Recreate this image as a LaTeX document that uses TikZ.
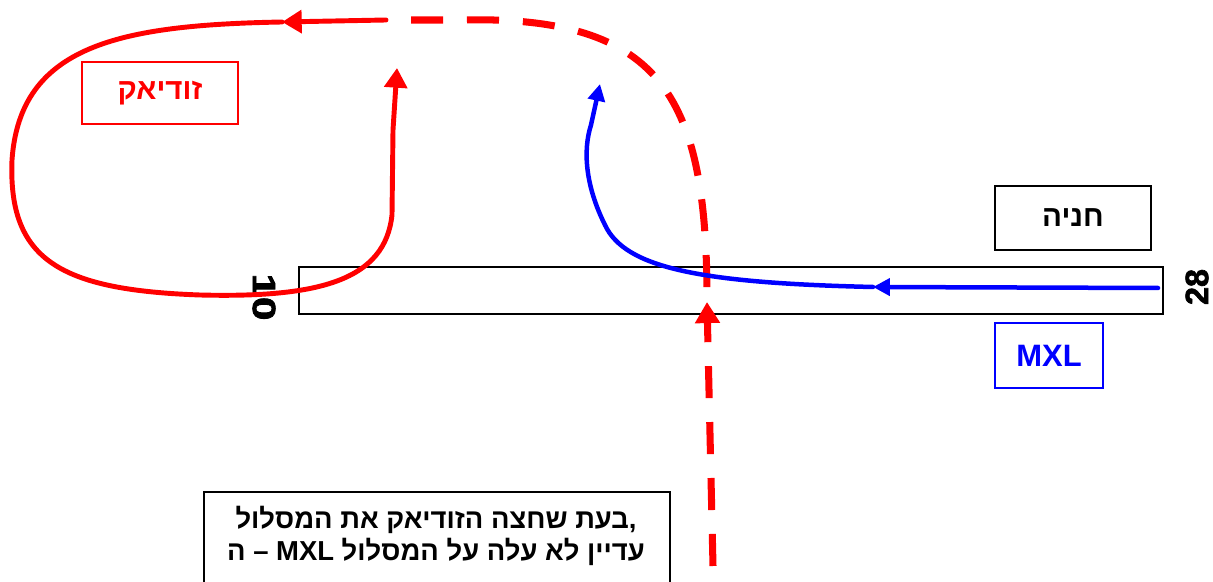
\documentclass[tikz,border=0pt]{standalone}
\usepackage{fontspec}
\setmainfont{Liberation Sans}
\newfontfamily\hebfont[Script=Hebrew]{Liberation Sans}
\newfontfamily\rwyfont[BoldFeatures={FakeBold=2}]{Liberation Sans}
\TeXXeTstate=1
\usetikzlibrary{arrows.meta,positioning}
\definecolor{zred}{RGB}{255,0,0}
\definecolor{mblue}{RGB}{0,0,255}
\tikzset{
  labelbox/.style={draw, line width=1.2pt, inner sep=0pt, font=\hebfont\bfseries\fontsize{21}{24}\selectfont},
  rwynum/.style={font=\rwyfont\bfseries\fontsize{23}{23}\selectfont, inner sep=0pt},
  zodpath/.style={zred, line width=3.5pt, line cap=round, -{Triangle[length=14pt,width=16pt]}},
  zoddash/.style={zred, line width=5pt, dash pattern=on 22.8pt off 17pt, -{Triangle[length=15pt,width=17pt]}},
  mxlpath/.style={mblue, line width=3.2pt, line cap=round, -{Triangle[length=12pt,width=12pt]}}
}

\begin{document}
\begin{tikzpicture}[x=0.025cm,y=-0.025cm]
\useasboundingbox (0,0) rectangle (1213,582);

% Draw runway
\node[draw, line width=1pt, minimum width=21.6cm, minimum height=1.175cm, inner sep=0pt] (rwy) at (731,290.5) {};
\node[rwynum, rotate=-90] (rwy10) at (264,297) {\scalebox{1.3}[1]{10}};
\node[rwynum, rotate=90] (rwy28) at (1197,287) {28};

% Draw boxes
\node[labelbox, zred, text=zred, minimum width=3.9cm, minimum height=1.55cm] (zodiac) at (160,93) {\beginR זודיאק\endR};
\node[labelbox, minimum width=3.9cm, minimum height=1.6cm] (apron) at (1073,218) {\beginR חניה\endR};
\node[labelbox, mblue, text=mblue, font=\bfseries\fontsize{22}{22}\selectfont, minimum width=2.7cm, minimum height=1.625cm] (mxl) at (1049,355.5) {MXL};
\node[draw, line width=1.2pt, minimum width=11.65cm, minimum height=3.5cm, anchor=north, inner sep=0pt] (notebox) at (437,491) {};
\node[font=\hebfont\bfseries\fontsize{19.5}{23}\selectfont, align=center] (note) at (436,536)
  {\beginR בעת שחצה הזודיאק את המסלול\endR,\\ \beginR ה\endR{} – MXL \beginR עדיין לא עלה על המסלול\endR};

% Zodiac path
\draw[zoddash] (713,566) -- (707,302);
\draw[zoddash, -] (411,20) -- (460,20) .. controls (660,15) and (705,95) .. (707,289);
\draw[zodpath] (386,20) -- (282,22);
\draw[zodpath] (282,22) .. controls (120,25) and (20,45) .. (12,160)
  .. controls (8,260) and (60,290) .. (200,295)
  .. controls (320,298) and (385,280) .. (392,215) -- (393,130) -- (397,68);

% MXL path
\draw[mxlpath] (1158,288) -- (873,287);
\draw[mxlpath] (873,287) .. controls (700,283) and (625,268) .. (605,225)
  .. controls (585,185) and (583,150) .. (591,125) -- (600,84);
\end{tikzpicture}
\end{document}
